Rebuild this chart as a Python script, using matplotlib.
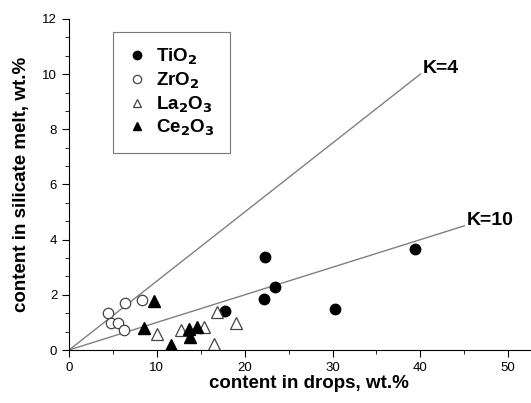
import matplotlib
matplotlib.use("Agg")
import numpy as np
import matplotlib.pyplot as plt
from matplotlib.ticker import MultipleLocator, AutoMinorLocator

plt.rcParams['font.family'] = ['Liberation Sans', 'DejaVu Sans']
plt.rcParams['mathtext.default'] = 'bf'

# valeurs
tio2_x = [17.8, 22.2, 22.3, 23.4, 30.3, 39.4]
tio2_y = [1.42, 1.85, 3.38, 2.28, 1.50, 3.66]

zro2_x = [4.40, 4.75, 5.54, 6.26, 6.41, 8.31]
zro2_y = [1.35, 0.99, 0.99, 0.73, 1.72, 1.80]

la2o3_x = [10.05, 12.75, 15.37, 16.9, 18.97, 16.5]
la2o3_y = [0.57, 0.73, 0.83, 1.37, 0.98, 0.21]

ce2o3_x = [9.71, 8.57, 11.6, 13.77, 13.7, 14.6]
ce2o3_y = [1.78, 0.81, 0.17, 0.46, 0.75, 0.82]

k_values = [4, 10]
k_xmax = [40, 45]

fig = plt.figure(figsize=(5.31, 4.03), dpi=100)
ax = fig.add_axes([0.130, 0.1315, 0.870, 0.8215])

# droites de partage K
for k, xm in zip(k_values, k_xmax):
    xs = np.array([0, xm])
    ax.plot(xs, xs / k, color='#808080', lw=1.0, zorder=1)
    ax.text(xm + 0.3, xm / k + 0.2, "K=%d" % k, fontsize=14, fontweight='bold',
            ha='left', va='center')

ms = 7.5
ax.plot(tio2_x, tio2_y, 'o', color='black', ms=ms, ls='none', label='TiO$_2$')
ax.plot(zro2_x, zro2_y, 'o', mfc='white', mec='#444444', mew=0.9, ms=ms, ls='none',
        label='ZrO$_2$')
ax.plot(la2o3_x, la2o3_y, '^', mfc='white', mec='#444444', mew=0.9, ms=ms + 0.5, ls='none',
        label='La$_2$O$_3$')
ax.plot(ce2o3_x, ce2o3_y, '^', color='black', ms=ms + 0.5, ls='none',
        label='Ce$_2$O$_3$')

ax.set_xlim(0, 52.6)
ax.set_ylim(0, 12)
ax.xaxis.set_major_locator(MultipleLocator(10))
ax.xaxis.set_minor_locator(MultipleLocator(5))
ax.yaxis.set_major_locator(MultipleLocator(2))
ax.yaxis.set_minor_locator(AutoMinorLocator(3))

ax.spines['top'].set_visible(False)
ax.spines['right'].set_visible(False)
ax.tick_params(which='both', direction='out', labelsize=9.5, colors='black')
ax.tick_params(which='major', length=5)
ax.tick_params(which='minor', length=3)

ax.set_xlabel("content in drops, wt.%", fontsize=13.5, fontweight='bold', labelpad=2)
ax.xaxis.set_label_coords(0.52, -0.075)
ax.set_ylabel("content in silicate melt, wt.%", fontsize=13.5, fontweight='bold', labelpad=9)

leg = ax.legend(loc='upper left', bbox_to_anchor=(0.095, 0.961), borderaxespad=0,
                prop={'weight': 'bold', 'size': 13.5}, frameon=True, fancybox=False,
                edgecolor='#555555', handletextpad=0.5, labelspacing=0.18,
                borderpad=0.8, handlelength=1.0, markerscale=0.8)
leg.get_frame().set_linewidth(0.8)

fig.savefig("out.png", dpi=100)
